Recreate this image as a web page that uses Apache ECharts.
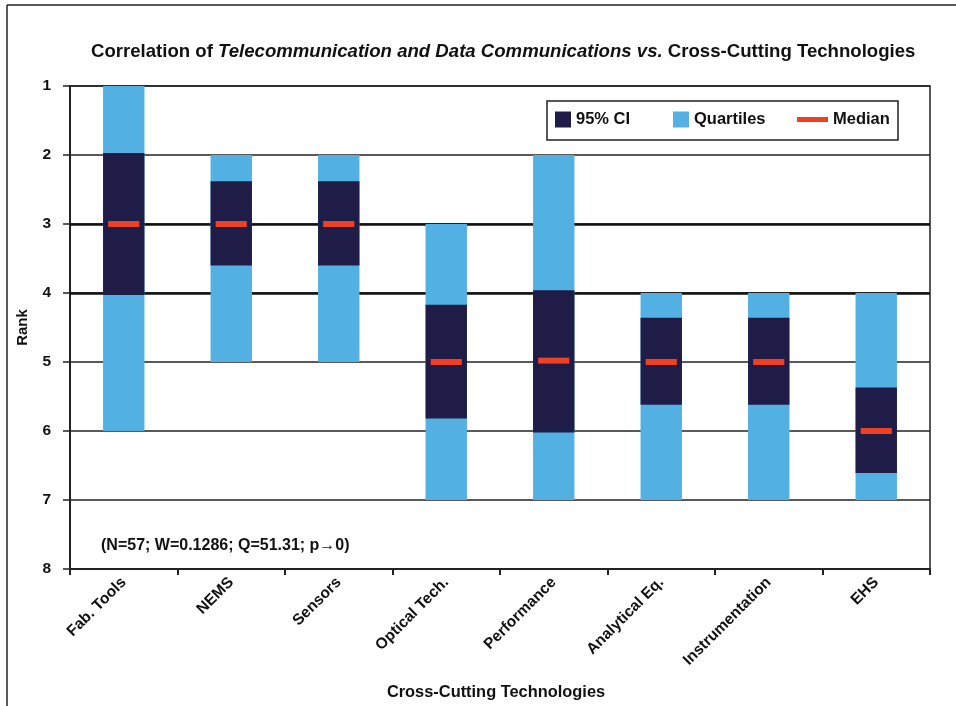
<!DOCTYPE html>
<html>
<head>
<meta charset="utf-8">
<script src="https://cdn.jsdelivr.net/npm/echarts@6/dist/echarts.min.js"></script>
<style>html,body{margin:0;padding:0;background:#fff}#c{width:956px;height:706px}</style>
</head>
<body>
<div id="c"></div>
<script>
const categories = ['Fab. Tools','NEMS','Sensors','Optical Tech.','Performance','Analytical Eq.','Instrumentation','EHS'];
const quartileLow  = [1, 2, 2, 3, 2, 4, 4, 4];
const quartileHigh = [6, 5, 5, 7, 7, 7, 7, 7];
const ciLow  = [1.97, 2.38, 2.38, 4.17, 3.96, 4.36, 4.36, 5.37];
const ciHigh = [4.03, 3.60, 3.60, 5.82, 6.02, 5.62, 5.62, 6.61];
const medians = [3, 3, 3, 5, 4.98, 5, 5, 6];
const rankTicks = [1, 2, 3, 4, 5, 6, 7, 8];
const thickGrid = [3, 4];
const statsNote = '(N=57; W=0.1286; Q=51.31; p\u21920)';

const FONT = '"Liberation Sans", Arial, sans-serif';
const C_Q = '#53B0E3', C_CI = '#1F1C48', C_MED = '#EE4022';

function rangeRender(params, api) {
  const x = api.value(0);
  const a = api.coord([x, api.value(1)]);
  const b = api.coord([x, api.value(2)]);
  const w = api.size([1, 0])[0] * 0.385;
  return {
    type: 'rect',
    shape: { x: a[0] - w / 2, y: Math.min(a[1], b[1]), width: w, height: Math.abs(b[1] - a[1]) },
    style: { fill: api.visual('color') }
  };
}
function medianRender(params, api) {
  const p = api.coord([api.value(0), api.value(1)]);
  const w = api.size([1, 0])[0] * 0.29;
  return {
    type: 'rect',
    shape: { x: p[0] - w / 2, y: p[1] - 3, width: w, height: 6 },
    style: { fill: api.visual('color') }
  };
}

const chart = echarts.init(document.getElementById('c'));
const legendText = { fontFamily: FONT, fontWeight: 'bold', fontSize: 16.5, color: '#111' };
chart.setOption({
  backgroundColor: '#fff',
  animation: false,
  title: {
    left: 86, top: 37,
    text: '{b|Correlation of }{i|Telecommunication and Data Communications vs.}{b| Cross-Cutting Technologies}',
    textStyle: {
      rich: {
        b: { fontFamily: FONT, fontWeight: 'bold', fontSize: 18.6, color: '#111' },
        i: { fontFamily: FONT, fontWeight: 'bold', fontStyle: 'italic', fontSize: 18.6, color: '#111' }
      }
    }
  },
  legend: [
    { left: 555, top: 111, padding: 0, itemWidth: 16, itemHeight: 16, itemGap: 0, data: ['95% CI'], textStyle: legendText, icon: 'rect' },
    { left: 673, top: 111, padding: 0, itemWidth: 16, itemHeight: 16, data: ['Quartiles'], textStyle: legendText, icon: 'rect' },
    { left: 797, top: 111, padding: 0, itemWidth: 31, itemHeight: 5, data: ['Median'], textStyle: legendText, icon: 'rect' }
  ],
  grid: { left: 70, right: 26, top: 86, bottom: 137, show: true, borderColor: '#222', borderWidth: 1.5 },
  xAxis: {
    type: 'category',
    data: categories,
    boundaryGap: true,
    name: 'Cross-Cutting Technologies',
    nameLocation: 'middle',
    nameGap: 115,
    nameTextStyle: { fontFamily: FONT, fontWeight: 'bold', fontSize: 16.4, color: '#111', padding: [0, 8, 0, 0] },
    axisLine: { lineStyle: { color: '#222', width: 2 } },
    axisTick: { show: true, length: 6, lineStyle: { color: '#222', width: 2 } },
    axisLabel: { rotate: 45, margin: 11, fontFamily: FONT, fontWeight: 'bold', fontSize: 15.5, color: '#111' },
    splitLine: { show: false }
  },
  yAxis: {
    type: 'value',
    inverse: true,
    min: 1, max: 8, interval: 1,
    name: 'Rank',
    nameLocation: 'middle',
    nameGap: 40,
    nameTextStyle: { fontFamily: FONT, fontWeight: 'bold', fontSize: 15, color: '#111' },
    axisLine: { show: true, lineStyle: { color: '#222', width: 2 } },
    axisTick: { show: true, length: 7, lineStyle: { color: '#222', width: 1.5 } },
    axisLabel: {
      margin: 19, fontFamily: FONT, fontWeight: 'bold', fontSize: 15.5, color: '#111',
      formatter: v => rankTicks.includes(v) ? String(v) : ''
    },
    splitLine: { show: true, lineStyle: { color: '#222', width: 1.5 } }
  },
  series: [
    {
      name: 'Quartiles', type: 'custom', renderItem: rangeRender, z: 3,
      itemStyle: { color: C_Q },
      encode: { x: 0, y: [1, 2] },
      data: categories.map((c, i) => [i, quartileLow[i], quartileHigh[i]]),
      markLine: {
        silent: true, symbol: 'none', z: 1,
        label: { show: false },
        lineStyle: { color: '#111', width: 2.5, type: 'solid' },
        data: thickGrid.map(v => ({ yAxis: v }))
      }
    },
    {
      name: '95% CI', type: 'custom', renderItem: rangeRender, z: 4,
      itemStyle: { color: C_CI },
      encode: { x: 0, y: [1, 2] },
      data: categories.map((c, i) => [i, ciLow[i], ciHigh[i]])
    },
    {
      name: 'Median', type: 'custom', renderItem: medianRender, z: 5,
      itemStyle: { color: C_MED },
      encode: { x: 0, y: 1 },
      data: categories.map((c, i) => [i, medians[i]])
    }
  ],
  graphic: [
    { type: 'line', shape: { x1: 7, y1: 5, x2: 7, y2: 706 }, style: { stroke: '#222', lineWidth: 1.5 } },
    { type: 'line', shape: { x1: 7, y1: 5, x2: 956, y2: 5 }, style: { stroke: '#222', lineWidth: 1.5 } },
    { type: 'rect', shape: { x: 547, y: 101, width: 351, height: 39 }, style: { fill: 'transparent', stroke: '#222', lineWidth: 1.5 }, z: 10 },
    { type: 'text', left: 101, top: 538, style: { text: statsNote, fontFamily: FONT, fontWeight: 'bold', fontSize: 16, fill: '#111' }, z: 10 }
  ]
});
</script>
</body>
</html>
